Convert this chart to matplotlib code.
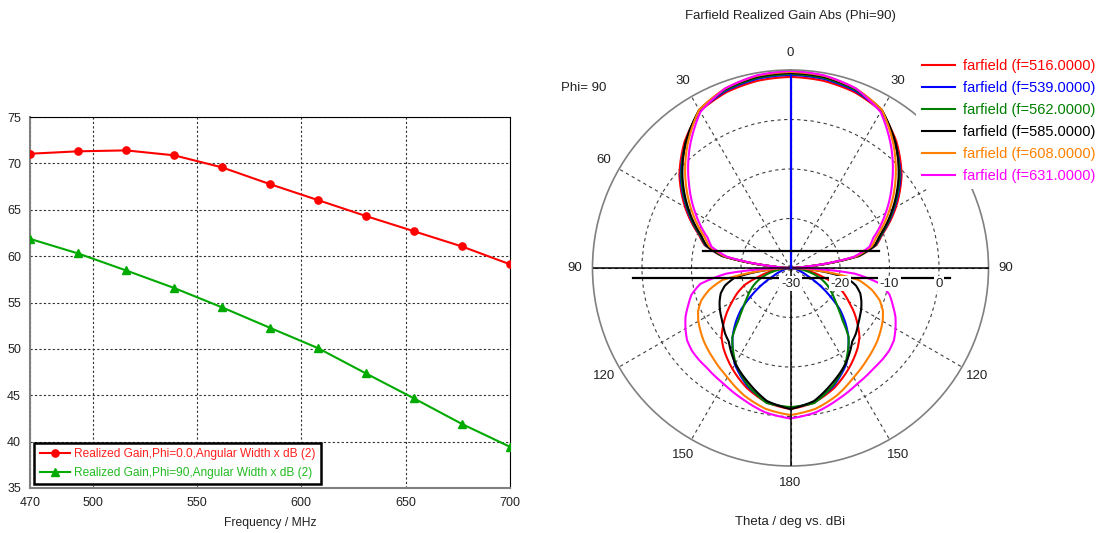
import numpy as np
import matplotlib
matplotlib.use('Agg')
import matplotlib.pyplot as plt

plt.rcParams['font.family'] = ['Liberation Sans', 'DejaVu Sans']

# ---------------- left chart data ----------------
freq_mhz = [470, 493, 516, 539, 562, 585, 608, 631, 654, 677, 700]
width_phi0 = [71.04, 71.30, 71.40, 70.87, 69.57, 67.76, 66.04, 64.32, 62.68, 61.04, 59.12]
width_phi90 = [61.86, 60.29, 58.46, 56.57, 54.48, 52.27, 50.08, 47.35, 44.66, 41.90, 39.44]
x_ticks = [470, 500, 550, 600, 650, 700]
y_ticks = [35, 40, 45, 50, 55, 60, 65, 70, 75]
label_phi0 = "Realized Gain,Phi=0.0,Angular Width x dB (2)"
label_phi90 = "Realized Gain,Phi=90,Angular Width x dB (2)"

# ---------------- polar chart data (Theta in deg, gain in dBi) ----------------
theta_deg = [0, 10, 20, 30, 40, 50, 60, 70, 75, 80, 85, 90,
             95, 100, 105, 110, 115, 120, 125, 130, 135, 140, 150, 160, 170, 180]
gain_516 = [8.6, 8.4, 7.8, 6.6, 3.3, -0.7, -5.4, -10.3, -12.0, -15.8, -26.3, -30.0,
            -28.0, -25.8, -23.5, -20.3, -18.2, -16.4, -14.3, -12.3, -10.3, -8.9, -6.5, -4.2, -2.4, -1.5]
gain_539 = [9.0, 8.8, 8.1, 6.7, 2.9, -1.0, -5.8, -10.5, -12.2, -16.0, -26.5, -30.0,
            -29.5, -29.0, -28.5, -27.5, -26.2, -23.5, -20.5, -17.0, -14.3, -11.8, -7.5, -4.6, -2.5, -1.7]
gain_562 = [9.2, 9.0, 8.3, 6.8, 2.9, -1.2, -6.0, -10.6, -12.3, -16.0, -26.5, -30.0,
            -28.5, -27.0, -25.0, -23.3, -21.8, -20.5, -19.2, -17.5, -15.2, -11.7, -7.8, -4.8, -2.3, -1.9]
gain_585 = [9.4, 9.2, 8.5, 6.9, 3.0, -1.5, -6.2, -10.8, -12.4, -16.2, -26.6, -30.0,
            -25.0, -18.5, -16.3, -15.0, -14.2, -13.5, -12.9, -12.2, -11.3, -10.6, -7.7, -5.3, -2.7, -1.5]
gain_608 = [9.6, 9.4, 8.6, 6.9, 2.4, -2.3, -7.0, -11.5, -13.0, -16.5, -26.8, -30.0,
            -25.0, -16.0, -13.0, -10.8, -9.4, -8.5, -7.8, -7.1, -6.5, -5.9, -4.5, -2.6, -1.1, -0.3]
gain_631 = [9.8, 9.5, 8.6, 6.4, 1.7, -3.2, -7.8, -12.2, -13.5, -17.0, -27.0, -30.0,
            -17.0, -11.5, -9.3, -8.0, -6.6, -5.5, -4.5, -4.0, -3.8, -3.7, -3.0, -1.8, -0.4, 0.4]
farfield_freqs = ["516.0000", "539.0000", "562.0000", "585.0000", "608.0000", "631.0000"]
farfield_gains = [gain_516, gain_539, gain_562, gain_585, gain_608, gain_631]
farfield_colors = ['#ff0000', '#0000ff', '#008000', '#000000', '#ff8000', '#ff00ff']
theta_tick_angles = [0, 30, 60, 90, 120, 150, 180, 210, 240, 270, 300, 330]
# right-hand "60" sits under the legend in the reference, so it is not shown
theta_tick_labels = ['0', '30', '', '90', '120', '150', '180', '150', '120', '90', '60', '30']
r_ring_values = [-20, -10, 0]
r_label_values = [-30, -20, -10, 0]
r_min, r_max = -30, 10
main_lobe_gain = 9.0
# angular-width marker lines: (level above centre, left end, right end) in dB units
marker_upper = (3.5, -17.6, 17.8)
marker_lower = (-2.0, -31.9, 32.3)

W, H = 1103, 533
fig = plt.figure(figsize=(W / 100, H / 100), dpi=100)
fig.patch.set_facecolor('white')

def fx(px):
    return px / W

def fy(py):
    return 1 - py / H

# ================= left cartesian chart =================
ax = fig.add_axes([fx(30), fy(488), (510 - 30) / W, (488 - 117) / H])
ax.plot(freq_mhz, width_phi0, color='#ff0000', lw=1.5, marker='o', ms=5.2,
        label=label_phi0, zorder=3)
ax.plot(freq_mhz, width_phi90, color='#00aa00', lw=1.5, marker='^', ms=5.8,
        label=label_phi90, zorder=3)
ax.set_xlim(470, 700)
ax.set_ylim(35, 75)
ax.set_xticks(x_ticks)
ax.set_yticks(y_ticks)
ax.tick_params(length=0, pad=6.5, labelsize=9, colors='#222222')
ax.grid(True, color='#303030', lw=0.8, linestyle=(0, (2, 2)))
for s in ['top', 'right']:
    ax.spines[s].set_color('black')
    ax.spines[s].set_linewidth(0.8)
for s in ['left', 'bottom']:
    ax.spines[s].set_color('#808080')
    ax.spines[s].set_linewidth(1.5)
ax.set_xlabel('Frequency / MHz', fontsize=8.7, color='#222222', labelpad=6)
leg = ax.legend(loc='lower left', bbox_to_anchor=(0.009, 0.01), borderaxespad=0,
                fancybox=False, edgecolor='black', framealpha=1, fontsize=8.6,
                handlelength=2.5, handletextpad=0.4, labelspacing=0.55, borderpad=0.45,
                labelcolor=['#ff2020', '#22bb22'])
leg.get_frame().set_linewidth(1.8)

# ================= right polar chart =================
cx, cy, R = 790.5, 268, 198
rect = [fx(cx - R), fy(cy + R), 2 * R / W, 2 * R / H]
pax = fig.add_axes(rect, projection='polar')
pax.set_theta_zero_location('N')
pax.set_theta_direction(-1)
pax.set_rlim(r_min, r_max)
pax.set_rticks(r_ring_values)
pax.set_yticklabels([])
pax.set_thetagrids(theta_tick_angles, theta_tick_labels)
pax.tick_params(axis='x', pad=2, labelsize=9.5, colors='#222222')
pax.grid(True, color='#404040', lw=0.8, linestyle=(0, (3, 3)))
pax.spines['polar'].set_color('#808080')
pax.spines['polar'].set_linewidth(1.2)

th = np.array(theta_deg, dtype=float)
handles = []
for fstr, g, c in zip(farfield_freqs, farfield_gains, farfield_colors):
    g = np.array(g, dtype=float)
    th_full = np.concatenate([-th[::-1], th[1:]])
    g_full = np.concatenate([g[::-1], g[1:]])
    h, = pax.plot(np.deg2rad(th_full), g_full, color=c, lw=1.5,
                  label='farfield (f=%s)' % fstr)
    # draw each segment as a curve in polar space (r linear in theta)
    h.get_path()._interpolation_steps = 12
    handles.append(h)

# overlay for straight reference lines and radial labels
span = r_max - r_min
ov = fig.add_axes(rect)
ov.set_xlim(-span, span)
ov.set_ylim(-span, span)
ov.axis('off')
ov.patch.set_alpha(0)
ov.plot([-span, span], [0, 0], color='black', lw=1.1)
ov.plot([0, 0], [-span, 0], color='black', lw=1.1)
ov.plot([0, 0], [0, main_lobe_gain - r_min], color='#0000ff', lw=1.6)
ov.plot([marker_upper[1], marker_upper[2]], [marker_upper[0]] * 2, color='black', lw=1.6)
ov.plot([marker_lower[1], marker_lower[2]], [marker_lower[0]] * 2, color='black', lw=1.6)
for v in r_label_values:
    ov.text(v - r_min, -3.2, '%d' % v, ha='center', va='center', fontsize=9.5,
            color='#222222', zorder=6,
            bbox=dict(facecolor='white', edgecolor='none', pad=1.0))

fig.legend(handles, [h.get_label() for h in handles], loc='upper left',
           bbox_to_anchor=(fx(916), fy(53)), frameon=True, facecolor='white',
           edgecolor='none', framealpha=1, fancybox=False, fontsize=10.5,
           handlelength=2.3, handletextpad=0.55, labelspacing=0.55, borderpad=0.4,
           borderaxespad=0, labelcolor='linecolor')

fig.text(fx(790), fy(16), 'Farfield Realized Gain Abs (Phi=90)', ha='center',
         va='center', fontsize=9.5, color='#222222')
fig.text(fx(561), fy(88), 'Phi= 90', ha='left', va='center', fontsize=9.5,
         color='#222222')
fig.text(fx(790), fy(522), 'Theta / deg vs. dBi', ha='center', va='center',
         fontsize=9.5, color='#222222')

fig.savefig('out.png', dpi=100, facecolor='white')
